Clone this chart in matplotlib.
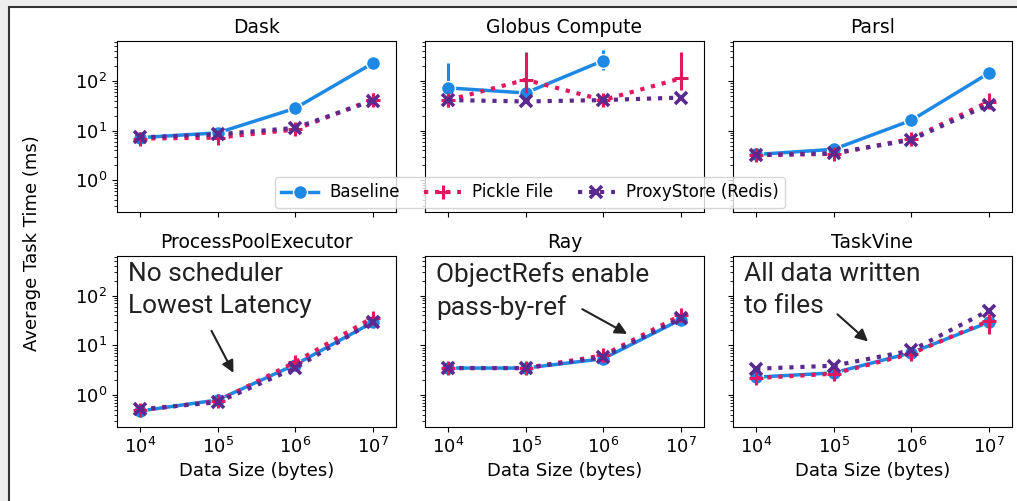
import numpy as np
import matplotlib
matplotlib.use('Agg')
import matplotlib.pyplot as plt
from matplotlib.ticker import NullLocator
from matplotlib.patches import Rectangle

nan = np.nan

# data sizes in bytes (x axis)
sizes = [1e4, 1e5, 1e6, 1e7]
frameworks = ['Dask', 'Globus Compute', 'Parsl', 'ProcessPoolExecutor', 'Ray', 'TaskVine']

# average task time (ms), one row per framework
baseline = [
    [7.2, 9.0, 28, 225],
    [72, 57, 255, nan],
    [3.3, 4.2, 16, 142],
    [0.48, 0.80, 4.1, 29],
    [3.5, 3.5, 5.4, 33],
    [2.3, 2.8, 7.1, 29],
]
baseline_lo = [
    [7.2, 9.0, 28, 225],
    [72, 50, 165, nan],
    [3.3, 4.2, 16, 142],
    [0.48, 0.80, 4.1, 29],
    [3.5, 3.5, 4.8, 33],
    [2.0, 2.8, 7.1, 29],
]
baseline_hi = [
    [7.2, 12, 28, 225],
    [225, 62, 420, nan],
    [3.3, 4.7, 16, 142],
    [0.48, 0.80, 4.1, 29],
    [3.5, 3.5, 5.4, 33],
    [2.3, 2.8, 7.1, 29],
]

pickle = [
    [6.9, 7.2, 10.5, 42],
    [41, 105, 41, 112],
    [3.2, 3.4, 6.8, 38],
    [0.50, 0.75, 4.6, 36],
    [3.5, 3.5, 6.3, 40],
    [2.2, 2.7, 6.8, 31],
]
pickle_lo = [
    [6.9, 5.6, 10.5, 42],
    [30, 56, 41, 65],
    [3.2, 3.4, 6.8, 38],
    [0.40, 0.75, 4.6, 36],
    [3.5, 3.5, 6.3, 40],
    [1.9, 2.4, 6.8, 17],
]
pickle_hi = [
    [6.9, 7.6, 10.5, 58],
    [41, 380, 41, 380],
    [3.2, 3.4, 6.8, 56],
    [0.50, 0.75, 5.4, 47],
    [3.5, 3.5, 6.3, 46],
    [2.5, 2.7, 6.8, 36],
]

proxy = [
    [7.3, 8.4, 11.3, 40],
    [41, 38.5, 41, 46],
    [3.2, 3.5, 6.5, 33],
    [0.52, 0.72, 3.5, 30],
    [3.5, 3.5, 5.8, 35],
    [3.4, 3.9, 7.9, 50],
]

notes = ['No scheduler\nLowest Latency', 'ObjectRefs enable\npass-by-ref', 'All data written\nto files']
note_tail = [(8.0e4, 22), (5.0e5, 57), (1.05e5, 46)]
note_head = [(1.66e5, 2.5), (2.2e6, 16), (2.95e5, 11)]

BLUE = '#1E88E5'
PINK = '#E0195E'
PURPLE = '#5B2A8E'

fig, axes = plt.subplots(2, 3, figsize=(10.17, 5.01), dpi=100, sharex=True, sharey=True)
fig.subplots_adjust(left=0.115, right=0.995, top=0.918, bottom=0.148, wspace=0.104, hspace=0.257)

# light frame around the figure like the screenshot
fig.patch.set_facecolor('#eeeeee')
fig.patches.append(Rectangle((9 / 1017, -0.1), 1.1, 1.1 - 7 / 501, transform=fig.transFigure,
                             facecolor='white', edgecolor='#333333', lw=1.5, zorder=-10))

series = [
    ('Baseline', baseline, baseline_lo, baseline_hi, BLUE, '-', 'o'),
    ('Pickle File', pickle, pickle_lo, pickle_hi, PINK, ':', '+'),
    ('ProxyStore (Redis)', proxy, proxy, proxy, PURPLE, ':', 'x'),
]

handles = []
for i, ax in enumerate(axes.flat):
    for name, vals, lo, hi, col, ls, mk in series:
        y = np.array(vals[i], dtype=float)
        ylo = np.array(lo[i], dtype=float)
        yhi = np.array(hi[i], dtype=float)
        ax.errorbar(sizes, y, yerr=[y - ylo, yhi - y], fmt='none', ecolor=col, elinewidth=2.2, capsize=0)
        if mk == 'o':
            ln, = ax.plot(sizes, y, ls=ls, color=col, lw=2.5, marker=mk, ms=10, mec='white', mew=1)
        elif mk == '+':
            ln, = ax.plot(sizes, y, ls=ls, color=col, lw=3, marker=mk, ms=10, mew=2.2)
        else:
            ln, = ax.plot(sizes, y, ls=ls, color=col, lw=3, marker=mk, ms=8, mew=2.6)
        if i == 0:
            handles.append(ln)
    ax.set_title(frameworks[i], fontsize=13.5)
    ax.set_xscale('log')
    ax.set_yscale('log')
    ax.set_xlim(5e3, 2e7)
    ax.set_ylim(0.23, 630)
    ax.set_xticks(sizes)
    ax.xaxis.set_minor_locator(NullLocator())
    ax.tick_params(labelsize=13)
    if i >= 3:
        ax.set_xlabel('Data Size (bytes)', fontsize=13)
        j = i - 3
        ax.text(0.04, 0.965, notes[j], transform=ax.transAxes, va='top', ha='left',
                family='Roboto', fontsize=19, linespacing=1.42, color='#222222')
        ax.annotate('', xy=note_head[j], xytext=note_tail[j],
                    arrowprops=dict(arrowstyle='-|>', color='#222222', lw=1.5, mutation_scale=18))

fig.text(0.031, 0.515, 'Average Task Time (ms)', rotation=90, va='center', ha='center', fontsize=13)

fig.legend(handles, [s[0] for s in series], loc='center', bbox_to_anchor=(0.521, 0.616), ncol=3,
           fontsize=12, handlelength=2.2, columnspacing=1.5, handletextpad=0.65)

fig.savefig('out.png', dpi=100, facecolor=fig.get_facecolor())
